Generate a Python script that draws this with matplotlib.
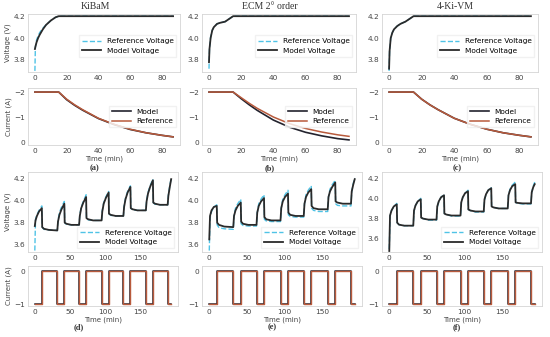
import matplotlib
matplotlib.use("Agg")
import matplotlib.pyplot as plt

# ---- CC-CV charge (rows 1-2), time in minutes ----
t_cv = [0, 0.3, 1, 2, 3, 5, 7, 10, 13, 15, 87]
v_model_cv = {
    "kibam": [3.90, 3.92, 3.96, 4.00, 4.03, 4.08, 4.12, 4.16, 4.19, 4.20, 4.20],
    "ecm":   [3.78, 3.90, 4.00, 4.07, 4.10, 4.13, 4.14, 4.15, 4.18, 4.20, 4.20],
    "kivm":  [3.72, 3.88, 4.00, 4.05, 4.08, 4.11, 4.13, 4.15, 4.18, 4.20, 4.20],
}
v_ref_cv = {
    "kibam": [3.70, 3.92, 3.98, 4.02, 4.05, 4.09, 4.12, 4.16, 4.19, 4.20, 4.20],
    "ecm":   [3.72, 3.90, 4.01, 4.07, 4.10, 4.13, 4.14, 4.15, 4.18, 4.20, 4.20],
    "kivm":  [3.70, 3.88, 4.00, 4.05, 4.08, 4.11, 4.13, 4.15, 4.18, 4.20, 4.20],
}

t_i = [0, 15, 20, 25, 30, 40, 50, 60, 70, 80, 87]
i_model_cv = {
    "kibam": [-2, -2, -1.70, -1.48, -1.29, -0.96, -0.72, -0.53, -0.40, -0.30, -0.24],
    "ecm":   [-2, -2, -1.74, -1.50, -1.28, -0.90, -0.62, -0.42, -0.28, -0.17, -0.12],
    "kivm":  [-2, -2, -1.72, -1.50, -1.31, -0.97, -0.73, -0.54, -0.40, -0.30, -0.24],
}
i_ref_cv = {
    "kibam": [-2, -2, -1.72, -1.50, -1.31, -0.97, -0.73, -0.54, -0.40, -0.30, -0.24],
    "ecm":   [-2, -2, -1.78, -1.56, -1.36, -1.02, -0.76, -0.57, -0.43, -0.32, -0.26],
    "kivm":  [-2, -2, -1.72, -1.50, -1.31, -0.97, -0.73, -0.54, -0.40, -0.30, -0.24],
}

# ---- pulse charge (rows 3-4) ----
t_pulse = [0, 1, 3, 6, 10, 10.5, 13, 20,
           32, 33, 35, 38, 42, 42.5, 45, 52,
           63, 64, 66, 69, 73, 73.5, 76, 83,
           95, 96, 98, 101, 105, 105.5, 108, 115,
           126, 127, 129, 132, 136, 136.5, 139, 146,
           158, 159, 161, 164, 168, 168.5, 171, 178,
           189, 190, 192, 194]
v_model_p = {
    "kibam": [3.77, 3.82, 3.86, 3.90, 3.93, 3.76, 3.745, 3.735,
              3.73, 3.81, 3.87, 3.92, 3.97, 3.80, 3.79, 3.78,
              3.78, 3.86, 3.93, 3.98, 4.03, 3.84, 3.83, 3.82,
              3.82, 3.90, 3.97, 4.02, 4.07, 3.88, 3.87, 3.86,
              3.86, 3.94, 4.01, 4.07, 4.12, 3.93, 3.92, 3.91,
              3.91, 3.99, 4.06, 4.12, 4.18, 3.98, 3.97, 3.96,
              3.96, 4.04, 4.12, 4.19],
    "ecm":   [3.65, 3.86, 3.91, 3.94, 3.95, 3.80, 3.78, 3.765,
              3.76, 3.86, 3.91, 3.95, 3.98, 3.81, 3.79, 3.78,
              3.78, 3.89, 3.95, 3.99, 4.02, 3.85, 3.83, 3.82,
              3.82, 3.93, 3.99, 4.03, 4.06, 3.89, 3.87, 3.86,
              3.86, 3.97, 4.03, 4.07, 4.10, 3.95, 3.93, 3.92,
              3.92, 4.03, 4.08, 4.12, 4.16, 3.99, 3.98, 3.97,
              3.97, 4.08, 4.14, 4.19],
    "kivm":  [3.48, 3.83, 3.88, 3.92, 3.94, 3.76, 3.74, 3.73,
              3.73, 3.88, 3.93, 3.97, 3.99, 3.81, 3.80, 3.79,
              3.79, 3.92, 3.97, 4.01, 4.03, 3.85, 3.84, 3.83,
              3.83, 3.96, 4.01, 4.05, 4.07, 3.89, 3.88, 3.87,
              3.87, 3.99, 4.04, 4.08, 4.10, 3.92, 3.91, 3.90,
              3.90, 4.03, 4.08, 4.12, 4.14, 3.96, 3.955, 3.95,
              3.95, 4.06, 4.11, 4.14],
}
v_ref_p = {
    "kibam": [3.55, 3.83, 3.87, 3.91, 3.95, 3.76, 3.74, 3.735,
              3.73, 3.82, 3.89, 3.94, 3.99, 3.80, 3.785, 3.78,
              3.78, 3.87, 3.94, 3.99, 4.05, 3.84, 3.825, 3.82,
              3.82, 3.91, 3.98, 4.03, 4.08, 3.88, 3.865, 3.86,
              3.86, 3.95, 4.02, 4.08, 4.13, 3.93, 3.915, 3.91,
              3.91, 4.00, 4.07, 4.13, 4.19, 3.98, 3.965, 3.96,
              3.96, 4.05, 4.13, 4.20],
    "ecm":   [3.55, 3.84, 3.90, 3.94, 3.96, 3.78, 3.755, 3.745,
              3.74, 3.86, 3.93, 3.97, 4.01, 3.79, 3.775, 3.77,
              3.77, 3.89, 3.97, 4.01, 4.05, 3.83, 3.815, 3.81,
              3.81, 3.93, 4.01, 4.05, 4.09, 3.87, 3.855, 3.85,
              3.85, 3.97, 4.05, 4.09, 4.13, 3.93, 3.91, 3.90,
              3.90, 4.03, 4.10, 4.14, 4.18, 3.97, 3.955, 3.95,
              3.95, 4.08, 4.15, 4.20],
    "kivm":  [3.50, 3.82, 3.88, 3.92, 3.95, 3.76, 3.74, 3.73,
              3.73, 3.87, 3.93, 3.97, 4.00, 3.81, 3.80, 3.785,
              3.785, 3.91, 3.97, 4.01, 4.04, 3.85, 3.84, 3.825,
              3.825, 3.95, 4.01, 4.05, 4.08, 3.89, 3.88, 3.865,
              3.865, 3.98, 4.04, 4.08, 4.11, 3.92, 3.91, 3.90,
              3.90, 4.03, 4.09, 4.13, 4.16, 3.96, 3.95, 3.945,
              3.945, 4.06, 4.12, 4.16],
}
t_step = [0, 10, 32, 42, 63, 73, 95, 105, 126, 136, 158, 168, 189, 194]
i_step = [-1, 0, -1, 0, -1, 0, -1, 0, -1, 0, -1, 0, -1, -1]

models = ["kibam", "ecm", "kivm"]
titles = ["KiBaM", "ECM 2° order", "4-Ki-VM"]
letters_top = ["(a)", "(b)", "(c)"]
letters_bot = ["(d)", "(e)", "(f)"]

C_REF_V = "#4fc3e6"
C_MOD_V = "#2a2a2a"
C_MOD_I = "#23232e"
C_REF_I = "#b85a3c"

W, H = 550, 337
fig = plt.figure(figsize=(W / 100, H / 100), dpi=100)


def ax_px(l, t, r, b):
    return fig.add_axes([l / W, 1 - b / H, (r - l) / W, (b - t) / H])


def style(ax):
    for s in ax.spines.values():
        s.set_color("#d4d4d4")
        s.set_linewidth(0.6)
    ax.tick_params(length=0, pad=2, labelsize=5.3, labelcolor="#444444")


cols_top = [(28, 180), (202, 356), (382, 538)]
cols_bot = [(28, 178), (202, 362), (382, 542)]
title_x = [95, 270, 455]
letter_x_top = [95, 270, 457]
letter_x_bot = [79, 272, 457]
leg_kw = dict(fontsize=5.3, frameon=True, edgecolor="#eeeeee", fancybox=False,
              handlelength=2.6, borderpad=0.4, labelspacing=0.45, handletextpad=0.7)
lab_kw = dict(fontsize=5, color="#444444")

for k, m in enumerate(models):
    l, r = cols_top[k]
    # row 1: voltage
    ax = ax_px(l, 14, r, 72)
    style(ax)
    ax.plot(t_cv, v_ref_cv[m], ls="--", color=C_REF_V, lw=1.0, label="Reference Voltage")
    ax.plot(t_cv, v_model_cv[m], color=C_MOD_V, lw=1.3, label="Model Voltage")
    ax.set_ylim(3.69, 4.22)
    ax.set_yticks([3.8, 4.0, 4.2])
    ax.set_xticks([0, 20, 40, 60, 80])
    ax.legend(loc="center right", bbox_to_anchor=(1.0, 0.45), **leg_kw)
    if k == 0:
        ax.set_ylabel("Voltage (V)", labelpad=2, **lab_kw)
    fig.text(title_x[k] / W, 1 - 6.5 / H, titles[k], ha="center", va="center",
             fontsize=7, family="Liberation Serif", color="#333333")

    # row 2: current
    ax = ax_px(l, 88, r, 145)
    style(ax)
    ax.plot(t_i, i_model_cv[m], color=C_MOD_I, lw=1.2, label="Model")
    ax.plot(t_i, i_ref_cv[m], color=C_REF_I, lw=1.1, label="Reference")
    ax.set_ylim(0.08, -2.16)
    ax.set_yticks([0, -1, -2])
    ax.set_yticklabels(["0", "\u22121", "\u22122"])
    ax.set_xticks([0, 20, 40, 60, 80])
    ax.legend(loc="center right", **leg_kw)
    ax.set_xlabel("Time (min)", labelpad=1, **lab_kw)
    if k == 0:
        ax.set_ylabel("Current (A)", labelpad=2, **lab_kw)
    fig.text(letter_x_top[k] / W, 1 - 168 / H, letters_top[k], ha="center", va="center",
             fontsize=6, family="Liberation Serif", fontweight="bold", color="#333333")

    l, r = cols_bot[k]
    # row 3: pulse voltage
    ax = ax_px(l, 172, r, 252)
    style(ax)
    ax.plot(t_pulse, v_ref_p[m], ls="--", color=C_REF_V, lw=1.0, label="Reference Voltage")
    ax.plot(t_pulse, v_model_p[m], color=C_MOD_V, lw=1.3, label="Model Voltage")
    if m == "kivm":
        ax.set_ylim(3.47, 4.26)
    else:
        ax.set_ylim(3.537, 4.254)
    ax.set_yticks([3.6, 3.8, 4.0, 4.2])
    ax.set_xticks([0, 50, 100, 150])
    ax.legend(loc="lower right", **leg_kw)
    if k == 0:
        ax.set_ylabel("Voltage (V)", labelpad=2, **lab_kw)

    # row 4: pulse current
    ax = ax_px(l, 266, r, 306)
    style(ax)
    ax.plot(t_step, i_step, drawstyle="steps-post", color=C_MOD_I, lw=1.1)
    ax.plot(t_step, i_step, drawstyle="steps-post", color=C_REF_I, lw=1.0)
    ax.set_ylim(-1.05, 0.15)
    ax.set_yticks([-1, 0])
    ax.set_yticklabels(["\u22121", "0"])
    ax.set_xticks([0, 50, 100, 150])
    ax.set_xlabel("Time (min)", labelpad=1, **lab_kw)
    if k == 0:
        ax.set_ylabel("Current (A)", labelpad=2, **lab_kw)
    fig.text(letter_x_bot[k] / W, 1 - 327 / H, letters_bot[k], ha="center", va="center",
             fontsize=6, family="Liberation Serif", fontweight="bold", color="#333333")

fig.savefig("out.png", dpi=100)
